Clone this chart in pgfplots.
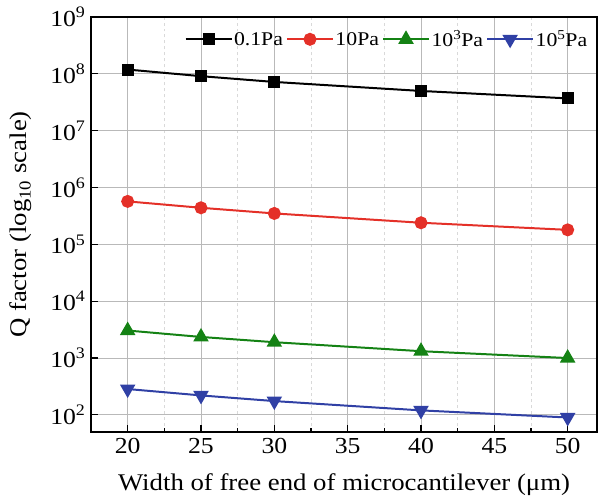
\documentclass[border=0pt]{standalone}
\usepackage{pgfplots}
\pgfplotsset{compat=1.18}
\usepackage{fontspec}
\setmainfont{Liberation Serif}[FakeStretch=1.12]
\definecolor{cred}{RGB}{228,48,40}
\definecolor{cgreen}{RGB}{20,130,20}
\definecolor{cblue}{RGB}{48,64,165}
\begin{document}
\begin{tikzpicture}
\useasboundingbox (-91bp,-68bp) rectangle (508bp,432bp);
\begin{axis}[
  at={(0,0)}, anchor=south west,
  scale only axis, width=506bp, height=415bp,
  ymode=log, log basis y=10,
  xmin=17.5, xmax=52, ymin=50, ymax=1e9,
  xtick={20,25,30,35,40,45,50},
  minor x tick num=1,
  ytick={1e2,1e3,1e4,1e5,1e6,1e7,1e8,1e9},
  yticklabel={10\textsuperscript{\pgfmathparse{int(round(\tick))}\pgfmathresult}},
  /pgf/number format/assume math mode=true,
  tick align=inside, tick pos=left,
  major tick length=7bp, minor tick length=4bp,
  every tick/.style={black, line width=1.2pt},
  axis line style={line width=1.5pt},
  grid=both,
  major grid style={gray!55, line width=0.8pt},
  minor grid style={gray!30, dashed, line width=0.6pt},
  font=\fontsize{23}{27}\selectfont,
  tick label style={font=\fontsize{23}{27}\selectfont},
  xticklabel style={yshift=-3bp},
  yticklabel style={xshift=-2bp},
  xlabel={Width of free end of microcantilever (μm)},
  ylabel={Q factor (log\textsubscript{10} scale)},
  xlabel style={font=\fontsize{24}{28}\selectfont, at={(rel axis cs:0.5,0)}, anchor=center, yshift=-53bp},
  ylabel style={font=\fontsize{24}{28}\selectfont, at={(rel axis cs:0,0.5)}, anchor=center, yshift=70bp},
  legend columns=4,
  legend style={draw=none, fill=none, at={(0.99,0.978)}, anchor=north east,
    font=\fontsize{19.5}{23}\selectfont, column sep=0bp,
    nodes={inner xsep=1.5bp},
    /tikz/every even column/.append style={column sep=1.5bp}},
  legend image code/.code={\draw[mark repeat=2,mark phase=2] plot coordinates {(0bp,0bp) (23bp,0bp) (46bp,0bp)};},
  every axis plot/.append style={line width=2pt},
]
\addplot[black, mark=square*, mark size=5bp] coordinates {
 (20,1.19e8) (25,9.1e7) (30,7.2e7) (40,5.0e7) (50,3.7e7)};
\addlegendentry{0.1Pa}
\addplot[cred, mark=*, mark size=5.5bp] coordinates {
 (20,5.7e5) (25,4.4e5) (30,3.5e5) (40,2.4e5) (50,1.8e5)};
\addlegendentry{10Pa}
\addplot[cgreen, mark=triangle*, mark size=7bp] coordinates {
 (20,3.05e3) (25,2.35e3) (30,1.9e3) (40,1.32e3) (50,1.0e3)};
\addlegendentry{10\textsuperscript{3}Pa}
\addplot[cblue, mark=triangle*, mark options={rotate=180}, mark size=7bp] coordinates {
 (20,2.85e2) (25,2.2e2) (30,1.75e2) (40,1.2e2) (50,0.9e2)};
\addlegendentry{10\textsuperscript{5}Pa}
\end{axis}
\end{tikzpicture}
\end{document}
